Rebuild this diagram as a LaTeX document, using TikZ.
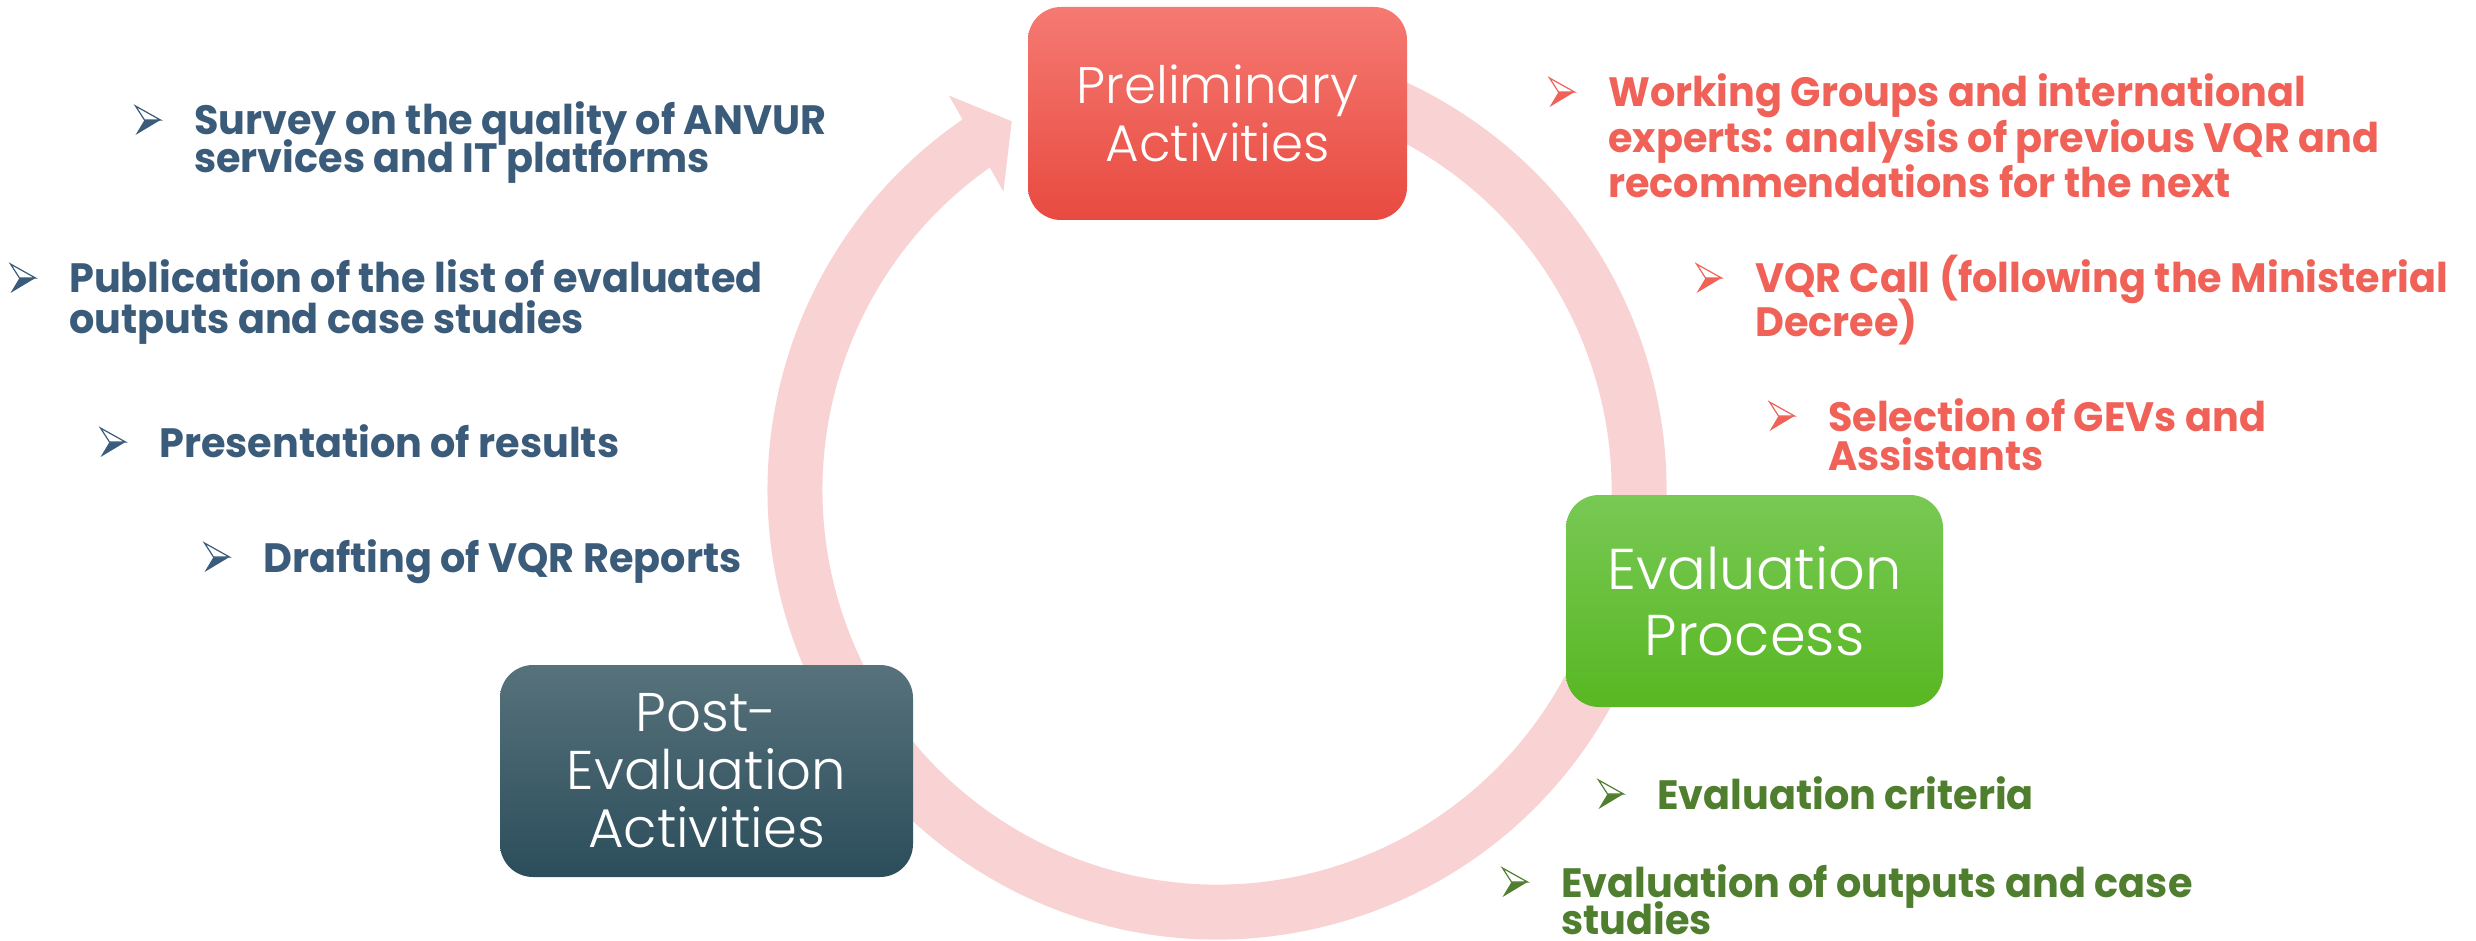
\documentclass[tikz,border=0pt]{standalone}
\usepackage{fontspec}
\newfontfamily\boxfont{Poppins Light}
\newfontfamily\itemfont{Poppins}[FakeStretch=0.97]
\usetikzlibrary{calc}

\definecolor{ringpink}{RGB}{249,211,212}
\definecolor{redtop}{RGB}{245,122,114}
\definecolor{redbot}{RGB}{232,74,64}
\definecolor{greentop}{RGB}{120,201,84}
\definecolor{greenbot}{RGB}{88,183,34}
\definecolor{tealtop}{RGB}{87,114,123}
\definecolor{tealbot}{RGB}{43,77,91}
\definecolor{redtxt}{RGB}{240,98,88}
\definecolor{greentxt}{RGB}{79,126,46}
\definecolor{bluetxt}{RGB}{59,91,123}

% left-aligned lines whose baseline is that of the first line
\newcommand\itemlines[1]{\vtop{\lineskiplimit=-\maxdimen\def\\{\cr}\halign{##\hfil\cr#1\crcr}}}

\tikzset{
  stage/.style={rounded corners=33pt, inner sep=0pt, align=center, text=white},
  item/.style={anchor=base west, inner sep=0pt,
    font=\itemfont\bfseries\fontsize{41}{#1}\selectfont},
  item/.default=40,
  pics/bul/.style={code={
    \fill[#1] (9,-15) -- (25,-15) -- (0,0) -- cycle;
    \draw[#1, fill=white, line width=1.2pt, line join=miter] (0,-29) -- (25,-15) -- (9,-15) -- cycle;
  }}
}

\begin{document}
\begin{tikzpicture}[x=1pt,y=-1pt]
\useasboundingbox (0,0) rectangle (2476,941);
\fill[white] (0,0) rectangle (2476,941);

% circular cycle arrow
\coordinate (c) at (1217,490);
\draw[ringpink, line width=55pt] ($(c)+(250:422)$) arc[start angle=250, end angle=596, radius=422];
\fill[ringpink] ($(c)+(595.8:477)$) -- ($(c)+(600.9:422)$) -- ($(c)+(594.4:367)$) -- cycle;

% the three phases
\node[stage, top color=redtop, bottom color=redbot, minimum width=379pt, minimum height=213pt,
  font=\boxfont\fontsize{51.5}{58}\selectfont] (prelim) at (1217.5,113.5) {Preliminary\\Activities};
\node[stage, top color=greentop, bottom color=greenbot, minimum width=377pt, minimum height=212pt,
  font=\boxfont\fontsize{57.5}{66}\selectfont] (evalp) at (1754.5,601) {Evaluation\\Process};
\node[stage, top color=tealtop, bottom color=tealbot, minimum width=413pt, minimum height=212pt,
  font=\boxfont\fontsize{54.5}{58}\selectfont] (post) at (706.5,771) {Post-\\Evaluation\\Activities};

% preliminary activities
\node[item=45.5, text=redtxt] (wg) at (1608,107) {\itemlines{Working Groups and international\\experts: analysis of previous VQR and\\recommendations for the next}};
\node[item=44, text=redtxt] (call) at (1755,293) {\itemlines{VQR Call (following the Ministerial\\Decree)}};
\node[item=39, text=redtxt] (sel) at (1828,431) {\itemlines{Selection of GEVs and\\Assistants}};

% evaluation process
\node[item, text=greentxt] (crit) at (1657,809) {Evaluation criteria};
\node[item=37.5, text=greentxt] (outp) at (1561,897) {\itemlines{Evaluation of outputs and case\\studies}};

% post-evaluation activities
\node[item=38, text=bluetxt] (surv) at (194,135) {\itemlines{Survey on the quality of ANVUR\\services and IT platforms}};
\node[item=40, text=bluetxt] (publ) at (69,293) {\itemlines{Publication of the list of evaluated\\outputs and case studies}};
\node[item, text=bluetxt] (pres) at (159,457) {Presentation of results};
\node[item, text=bluetxt] (draf) at (263,572) {Drafting of VQR Reports};

% bullets
\foreach \n/\col in {wg/redtxt, call/redtxt, sel/redtxt, crit/greentxt, outp/greentxt,
  surv/bluetxt, publ/bluetxt, pres/bluetxt, draf/bluetxt}
  \pic at ([xshift=-58.5pt]\n.base west) {bul=\col};
\end{tikzpicture}
\end{document}
